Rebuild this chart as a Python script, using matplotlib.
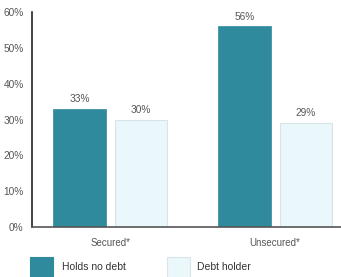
import matplotlib
matplotlib.use("Agg")
import matplotlib.pyplot as plt
from matplotlib.patches import Rectangle
import numpy as np

categories = ["Secured*", "Unsecured*"]
series_names = ["Holds no debt", "Debt holder"]
holds_no_debt = [33, 56]
debt_holder = [30, 29]
yticks = [0, 10, 20, 30, 40, 50, 60]

dark = "#2e8a9c"
light = "#eaf7fb"
edge_light = "#d8e4e8"
text_col = "#555555"

plt.rcParams['font.family'] = ['Liberation Sans', 'DejaVu Sans']

W, H = 341, 277
fig = plt.figure(figsize=(W / 100, H / 100), dpi=100)
ax = fig.add_axes([32 / W, 50 / H, (W - 32) / W, 215 / H])

x = np.arange(len(categories))
bw = 0.32
off = 0.187
b1 = ax.bar(x - off, holds_no_debt, width=bw, color=dark, edgecolor=dark, linewidth=0.5, zorder=2)
b2 = ax.bar(x + off, debt_holder, width=bw, color=light, edgecolor=edge_light, linewidth=0.8, zorder=2)

for bars, vals in ((b1, holds_no_debt), (b2, debt_holder)):
    for r, v in zip(bars, vals):
        ax.text(r.get_x() + r.get_width() / 2, v + 1.3, f"{v}%", ha="center", va="bottom",
                fontsize=7.3, color=text_col)

ax.set_xlim(-0.474, 1.399)
ax.set_ylim(0, 60)
ax.set_yticks(yticks)
ax.set_yticklabels([f"{t}%" for t in yticks], fontsize=7.3, color=text_col)
ax.set_xticks(x)
ax.set_xticklabels(categories, fontsize=7, color=text_col)
ax.tick_params(axis='y', length=0, pad=6)
ax.tick_params(axis='x', length=0, pad=8)
for s in ("top", "right"):
    ax.spines[s].set_visible(False)
ax.spines["left"].set_color("#222222")
ax.spines["left"].set_linewidth(1.2)
ax.spines["bottom"].set_color("#555555")
ax.spines["bottom"].set_linewidth(1.2)

# legend
for (x0, col, ec, name, tx) in ((30, dark, dark, series_names[0], 62),
                                 (167, light, edge_light, series_names[1], 197)):
    fig.add_artist(Rectangle((x0 / W, -5 / H), 23 / W, 25 / H, transform=fig.transFigure,
                             facecolor=col, edgecolor=ec, linewidth=0.8))
    fig.text(tx / W, (H - 267) / H, name, fontsize=7.5, color="#333333", va="center", ha="left")

fig.savefig("out.png", dpi=100)
